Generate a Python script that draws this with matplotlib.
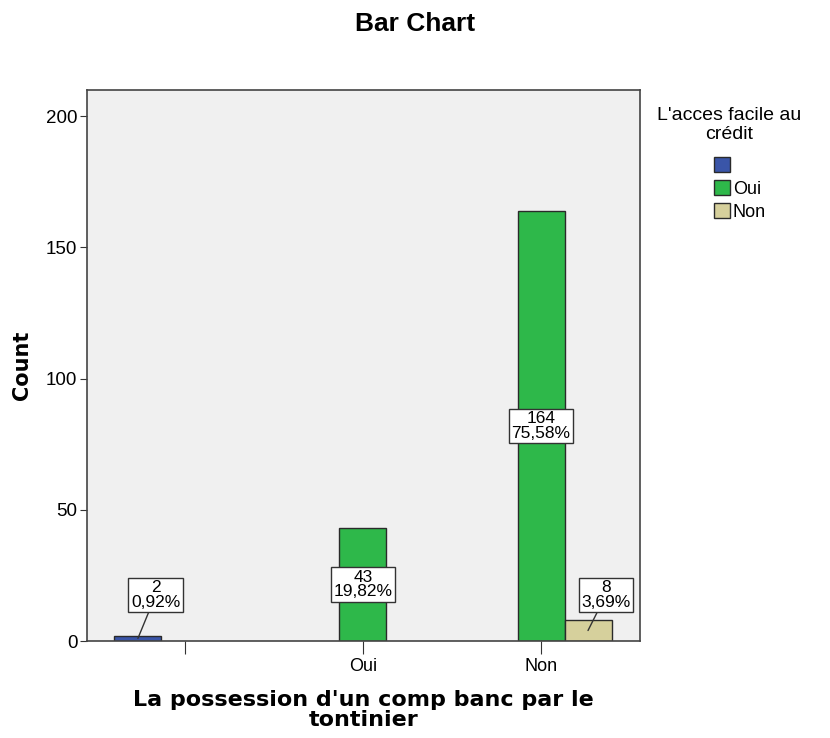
import matplotlib.pyplot as plt
import numpy as np

plt.rcParams['font.family'] = ['Liberation Sans', 'DejaVu Sans']

# categories on the x axis and the hue series
categories = ['', 'Oui', 'Non']
series = ['', 'Oui', 'Non']
counts = {
    '': [2, 0, 0],
    'Oui': [0, 43, 164],
    'Non': [0, 0, 8],
}
colors = {'': '#3a55a8', 'Oui': '#2eb84a', 'Non': '#d6d09c'}

total = sum(sum(v) for v in counts.values())

fig = plt.figure(figsize=(8.3, 7.38), dpi=100)
ax = fig.add_axes([87 / 830, 1 - 641 / 738, 553 / 830, 551 / 738])
ax.set_facecolor('#f0f0f0')

w = 47 / 178
x = np.arange(len(categories))

for i, s in enumerate(series):
    off = (i - 1) * w
    for j, v in enumerate(counts[s]):
        if v == 0:
            continue
        bx = x[j] + off
        ax.bar(bx, v, width=w, color=colors[s], edgecolor='#2a2a2a', linewidth=1, zorder=2)
        pct = f'{100 * v / total:.2f}%'.replace('.', ',')
        txt = f'{v}\n{pct}'
        box = dict(boxstyle='square,pad=0.15', facecolor='white', edgecolor='#333333', linewidth=1)
        if v > 30:
            ax.text(bx, v / 2, txt, ha='center', va='center', fontsize=12.5,
                    linespacing=0.95, bbox=box, zorder=3)
        else:
            ax.annotate(txt, xy=(bx, v / 2), xytext=(bx + 0.1, 17.5),
                        ha='center', va='center', fontsize=12.5, linespacing=0.95,
                        bbox=box, zorder=3,
                        arrowprops=dict(arrowstyle='-', color='#333333', lw=1,
                                        shrinkA=0, shrinkB=0))

ax.set_xlim(-0.55, 2.556)
ax.set_ylim(0, 210)
ax.set_xticks(x)
ax.set_xticklabels(categories, fontsize=13)
ax.set_yticks([0, 50, 100, 150, 200])
ax.tick_params(axis='y', labelsize=13.5, length=5, color='#333333', pad=2)
ax.tick_params(axis='x', length=9, color='#333333', pad=3)
for sp in ax.spines.values():
    sp.set_color('#444444')
    sp.set_linewidth(1.2)

ax.set_ylabel('Count', fontsize=15, fontweight='bold', family='DejaVu Sans', labelpad=10)
ax.set_xlabel("La possession d'un comp banc par le\ntontinier", fontsize=16,
              fontweight='bold', family='DejaVu Sans', labelpad=11, linespacing=1.0)
fig.text(0.5, 1 - 24 / 738, 'Bar Chart', ha='center', va='center',
         fontsize=19, fontweight='bold')

# legend title drawn separately so the gap to the entries can match
fig.text(729 / 830, 1 - 125 / 738, "L'acces facile au\ncrédit", ha='center', va='center',
         fontsize=14, linespacing=1.1, multialignment='center')
handles = [plt.Rectangle((0, 0), 1, 1, facecolor=colors[s], edgecolor='#2a2a2a', linewidth=1)
           for s in series]
leg = fig.legend(handles, series, loc='upper left',
                 bbox_to_anchor=(714 / 830, 1 - 157 / 738),
                 frameon=False, fontsize=13, borderpad=0, borderaxespad=0,
                 handlelength=0.9, handleheight=0.9,
                 handletextpad=0.15, labelspacing=0.3)

fig.savefig('out.png', dpi=100, facecolor='white')
